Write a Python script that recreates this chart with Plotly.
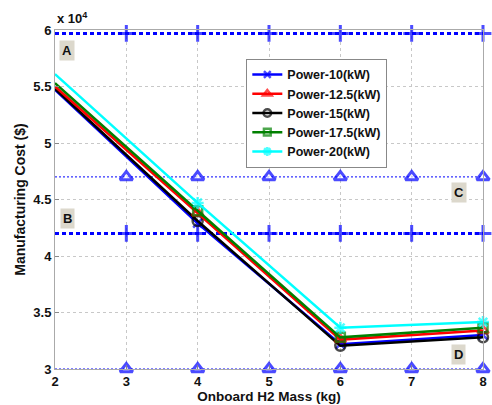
import plotly.graph_objects as go

# Data (cost in $)
mass = [2, 4, 6, 8]
series_names = ["Power-10(kW)", "Power-12.5(kW)", "Power-15(kW)", "Power-17.5(kW)", "Power-20(kW)"]
cost_10 = [54700, 42900, 32200, 33000]
cost_12_5 = [55000, 43800, 32600, 33400]
cost_15 = [54800, 43100, 32050, 32800]
cost_17_5 = [55300, 44000, 32800, 33650]
cost_20 = [56100, 44700, 33650, 34150]

ref_x = [2, 3, 4, 5, 6, 7, 8]
ref_A = 59700
ref_B = 42000
ref_C = 47000
ref_D = 30000

yticks = [30000, 35000, 40000, 45000, 50000, 55000, 60000]
yticklabels = ["3", "3.5", "4", "4.5", "5", "5.5", "6"]
xticks = [2, 3, 4, 5, 6, 7, 8]

FONT = "Arial, Liberation Sans, sans-serif"
fig = go.Figure()

msize = [0, 12, 12, 12, 12, 12, 12]
for yv in (ref_A, ref_B):
    fig.add_trace(go.Scatter(x=ref_x, y=[yv] * len(ref_x), mode="lines+markers",
                             line=dict(color="#0000ff", width=3, dash="4px,3px"),
                             marker=dict(symbol="cross-thin", size=msize, line=dict(color="#0000ff", width=3)),
                             showlegend=False, cliponaxis=False, hoverinfo="skip"))
for yv in (ref_C, ref_D):
    fig.add_trace(go.Scatter(x=ref_x, y=[yv] * len(ref_x), mode="lines+markers",
                             line=dict(color="#0000ff", width=1, dash="2px,2px"),
                             marker=dict(symbol="triangle-up", size=[0, 11, 11, 11, 11, 11, 11],
                                         color="white", line=dict(color="#0000ff", width=3)),
                             showlegend=False, cliponaxis=False, hoverinfo="skip"))

styles = [
    ("#0000ff", "x-thin", cost_10, 9),
    ("#ff0000", "triangle-up-open", cost_12_5, 10),
    ("#000000", "circle-open", cost_15, 10),
    ("#008000", "square-open", cost_17_5, 9),
    ("#00ffff", "asterisk-open", cost_20, 10),
]
traces = []
for i, (col, sym, vals, sz) in enumerate(styles):
    traces.append(go.Scatter(x=mass, y=vals, mode="lines+markers", name="<b>" + series_names[i] + "</b>",
                             line=dict(color=col, width=2.5),
                             marker=dict(symbol=sym, size=[0] + [sz] * (len(vals) - 1), color=col,
                                         line=dict(color=col, width=2.5)),
                             cliponaxis=False, legendrank=i + 1))
for i in [0, 2, 1, 3, 4]:
    fig.add_trace(traces[i])

ann_style = dict(showarrow=False, bgcolor="#dcd8cc", font=dict(family=FONT, size=13, color="#111"),
                 borderpad=2)
for txt, xv, yv in [("A", 2.17, 58200), ("B", 2.17, 43300), ("C", 7.67, 45600), ("D", 7.65, 31300)]:
    fig.add_annotation(x=xv, y=yv, text="<b>" + txt + "</b>", **ann_style)
fig.add_annotation(x=2.03, y=29900, text="D", showarrow=False, bgcolor="#dcd8cc",
                   font=dict(family=FONT, size=11, color="#333"), borderpad=0)
fig.add_annotation(xref="paper", yref="paper", x=0, y=1.0, xanchor="left", yanchor="bottom",
                   text="<b>x 10<sup>4</sup></b>", showarrow=False, yshift=2,
                   font=dict(family=FONT, size=13, color="#111"))

fig.update_layout(
    width=492, height=405,
    margin=dict(l=55, r=5, t=30, b=35),
    paper_bgcolor="white", plot_bgcolor="white",
    font=dict(family=FONT, size=13, color="#111"),
    legend=dict(x=0.447, y=0.915, xanchor="left", yanchor="top",
                bgcolor="white", bordercolor="#888", borderwidth=1,
                font=dict(family=FONT, size=12.5, color="#111"),
                itemwidth=30, tracegroupgap=0, traceorder="normal"),
    showlegend=True,
)
fig.update_xaxes(range=[2, 8], tickvals=xticks, ticktext=["<b>%d</b>" % v for v in xticks],
                 tickfont=dict(size=13),
                 showgrid=True, gridcolor="#c8c8c8", griddash="dot", gridwidth=1,
                 showline=True, linecolor="#aaaaaa", linewidth=1, mirror=True,
                 ticks="inside", ticklen=4, tickcolor="#888", zeroline=False,
                 title=dict(text="<b>Onboard H2 Mass (kg)</b>", standoff=2, font=dict(size=13.5)))
fig.update_yaxes(range=[30000, 60000], tickvals=yticks, ticktext=["<b>%s</b>" % t for t in yticklabels],
                 tickfont=dict(size=13),
                 showgrid=True, gridcolor="#c8c8c8", griddash="dot", gridwidth=1,
                 showline=True, linecolor="#aaaaaa", linewidth=1, mirror=True,
                 ticks="inside", ticklen=4, tickcolor="#888", zeroline=False,
                 title=dict(text="<b>Manufacturing Cost ($)</b>", standoff=4, font=dict(size=14)))

fig.write_html("out.html")
